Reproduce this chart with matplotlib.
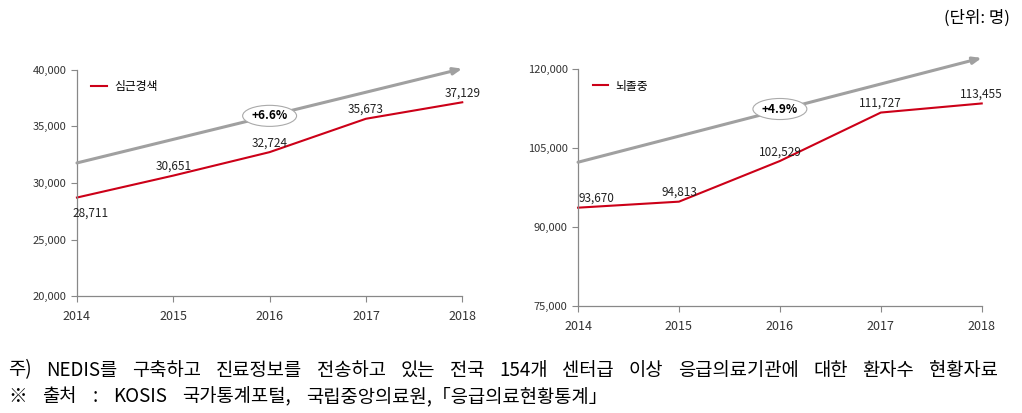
import matplotlib
matplotlib.use("Agg")
import matplotlib.pyplot as plt

plt.rcParams['font.family'] = ['Noto Sans CJK KR', 'DejaVu Sans']

years = [2014, 2015, 2016, 2017, 2018]
heart = [28711, 30651, 32724, 35673, 37129]
stroke = [93670, 94813, 102529, 111727, 113455]
heart_trend = [31770, 40100]
stroke_trend = [102300, 122100]
heart_rate = '+6.6%'
stroke_rate = '+4.9%'

note1 = '주) NEDIS를 구축하고 진료정보를 전송하고 있는 전국 154개 센터급 이상 응급의료기관에 대한 환자수 현황자료'
note2 = '※ 출처 : KOSIS 국가통계포털, 국립중앙의료원,「응급의료현황통계」'

fig = plt.figure(figsize=(10.22, 4.13), dpi=100)
ax1 = fig.add_axes([0.0753, 0.283, 0.377, 0.548])
ax2 = fig.add_axes([0.5656, 0.259, 0.395, 0.574])

red = '#cc0018'
gray = '#a0a0a0'


def draw(ax, vals, trend, rate, rate_y, ylim, yticks, name, offsets):
    ax.annotate('', xy=(years[-1], trend[1]), xytext=(years[0], trend[0]),
                annotation_clip=False,
                arrowprops=dict(arrowstyle='-|>,head_length=0.5,head_width=0.2',
                                color=gray, lw=2.2, shrinkA=0, shrinkB=0))
    ax.plot(years, vals, color=red, lw=1.5, label=name, clip_on=False)
    for x, v, (dx, dy) in zip(years, vals, offsets):
        ax.annotate(f'{v:,}', (x, v), xytext=(dx, dy), textcoords='offset points',
                    ha='center', va='bottom', fontsize=8.5, color='#222222')
    ax.text(2016, rate_y, rate, ha='center', va='center', fontsize=8.5,
            fontweight='bold',
            bbox=dict(boxstyle='ellipse,pad=0.08', fc='white', ec='#aaaaaa', lw=0.8))
    ax.set_xlim(2014, 2018)
    ax.set_ylim(*ylim)
    ax.set_xticks(years)
    ax.set_yticks(yticks)
    ax.set_yticklabels([f'{t:,}' for t in yticks])
    for s in ['top', 'right']:
        ax.spines[s].set_visible(False)
    for s in ['left', 'bottom']:
        ax.spines[s].set_color('#888888')
        ax.spines[s].set_linewidth(0.9)
    ax.tick_params(axis='both', labelsize=8, colors='#888888', labelcolor='#333333',
                   length=4, width=0.8)
    ax.tick_params(axis='x', pad=6, labelsize=9)
    ax.legend(loc='upper left', bbox_to_anchor=(0.01, 1.0), frameon=False,
              fontsize=8.5, handlelength=1.3, handletextpad=0.6)


draw(ax1, heart, heart_trend, heart_rate, 35930, (20000, 40000),
     [20000, 25000, 30000, 35000, 40000], '심근경색',
     [(10, -16), (0, 2), (0, 2), (0, 2), (0, 2)])
draw(ax2, stroke, stroke_trend, stroke_rate, 112400, (75000, 120000),
     [75000, 90000, 105000, 120000], '뇌졸중',
     [(13, 2), (0, 2), (0, 2), (0, 2), (0, 2)])

fig.text(0.988, 0.956, '(단위: 명)', ha='right', va='center', fontsize=12)

# footnotes: words placed one by one and spread to the reference line ends
renderer = fig.canvas.get_renderer()


def place_words(text, y, start_px, end_px):
    words = text.split(' ')
    arts = [fig.text(0, y, w, ha='left', va='center', fontsize=13.5) for w in words]
    widths = [a.get_window_extent(renderer).width for a in arts]
    gap_px = (end_px - start_px - sum(widths)) / (len(words) - 1)
    x = start_px
    for a, w in zip(arts, widths):
        a.set_x(x / fig.bbox.width)
        x += w + gap_px


place_words(note1, 0.104, 8, 998)
place_words(note2, 0.039, 8, 608)

fig.savefig('out.png', dpi=100)
